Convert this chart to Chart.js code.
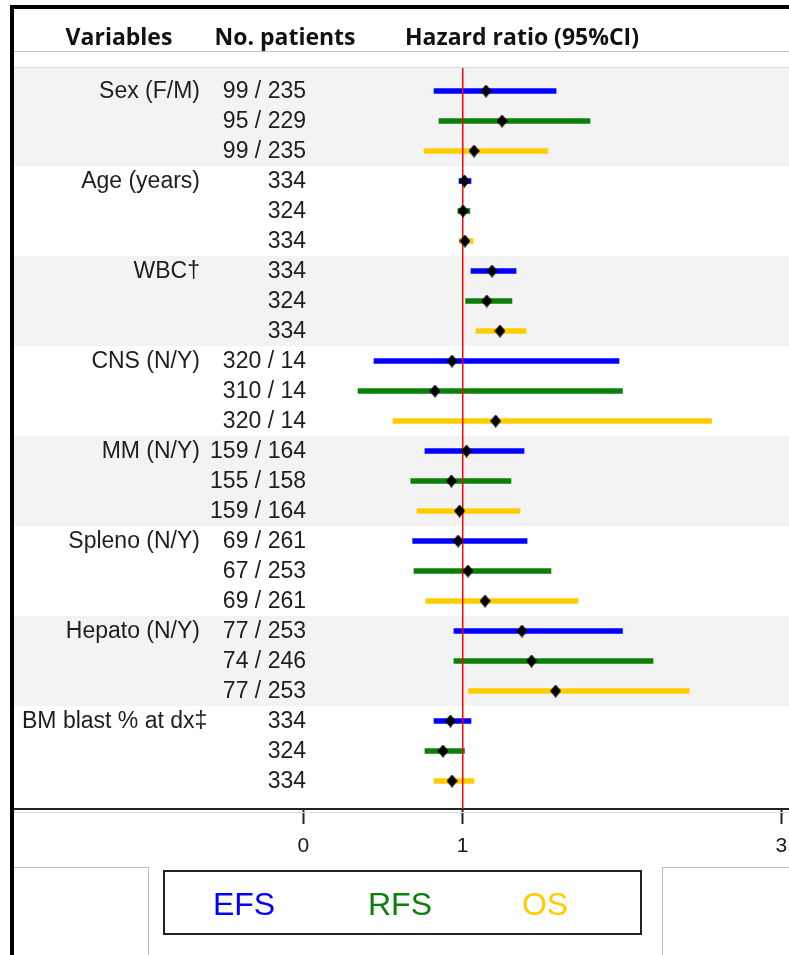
<!DOCTYPE html>
<html>
<head>
<meta charset="utf-8">
<script src="https://cdn.jsdelivr.net/npm/chart.js@4.4.0/dist/chart.umd.min.js"></script>
<style>
html,body{margin:0;padding:0;background:#fff;}
#wrap{position:relative;width:789px;height:955px;overflow:hidden;background:#fff;}
#c{position:absolute;left:0;top:0;}
.bt{position:absolute;left:10px;top:5px;width:800px;height:4px;background:#000;}
.bl{position:absolute;left:10px;top:5px;width:4px;height:960px;background:#000;}
.gl{position:absolute;left:14px;top:867px;width:134px;height:100px;border-top:1px solid #bdbdbd;border-right:1px solid #bdbdbd;}
.gr{position:absolute;left:662px;top:867px;width:140px;height:100px;border-top:1px solid #bdbdbd;border-left:1px solid #bdbdbd;}
#legend{position:absolute;left:163px;top:870px;width:479px;height:65px;box-sizing:border-box;border:2px solid #222;}
.lg{position:absolute;top:904px;transform:translate(-50%,-50%);font:32px "Liberation Sans",Arial,sans-serif;white-space:nowrap;line-height:1;}
</style>
</head>
<body>
<div id="wrap">
  <canvas id="c" width="789" height="955"></canvas>
  <div class="bt"></div>
  <div class="bl"></div>
  <div class="gl"></div>
  <div class="gr"></div>
  <div id="legend"></div>
  <span class="lg" style="left:244px;color:#0000ff">EFS</span>
  <span class="lg" style="left:400px;color:#0a7f0a">RFS</span>
  <span class="lg" style="left:545px;color:#ffcc00">OS</span>
</div>
<script>
// ---- data ----
const headers = ['Variables', 'No. patients', 'Hazard ratio (95%CI)'];
const variables = ['Sex (F/M)', 'Age (years)', 'WBC\u2020', 'CNS (N/Y)', 'MM (N/Y)', 'Spleno (N/Y)', 'Hepato (N/Y)', 'BM blast % at dx\u2021'];
const seriesNames = ['EFS', 'RFS', 'OS'];

const efsPatients = ['99 / 235', '334', '334', '320 / 14', '159 / 164', '69 / 261', '77 / 253', '334'];
const rfsPatients = ['95 / 229', '324', '324', '310 / 14', '155 / 158', '67 / 253', '74 / 246', '324'];
const osPatients  = ['99 / 235', '334', '334', '320 / 14', '159 / 164', '69 / 261', '77 / 253', '334'];

const efsHR = [1.146, 1.011, 1.184, 0.933, 1.024, 0.971, 1.372, 0.923];
const efsLo = [0.820, 0.977, 1.052, 0.443, 0.763, 0.686, 0.945, 0.820];
const efsHi = [1.586, 1.052, 1.335, 1.981, 1.385, 1.404, 2.003, 1.052];

const rfsHR = [1.247, 1.002, 1.151, 0.826, 0.929, 1.033, 1.432, 0.876];
const rfsLo = [0.851, 0.970, 1.018, 0.343, 0.674, 0.694, 0.945, 0.763];
const rfsHi = [1.799, 1.045, 1.309, 2.003, 1.303, 1.554, 2.195, 1.011];

const osHR = [1.071, 1.014, 1.234, 1.207, 0.980, 1.140, 1.583, 0.933];
const osLo = [0.757, 0.977, 1.083, 0.562, 0.713, 0.768, 1.036, 0.820];
const osHi = [1.535, 1.064, 1.397, 2.562, 1.360, 1.724, 2.421, 1.071];

const tickValues = [0, 1, 3];
const referenceHR = 1;

// ---- layout constants ----
const X_MIN = -1.8167, X_MAX = 3.0483;
const Y_MIN = -23 / 30, Y_MAX = 23 + 28 / 30;
const colors = ['#0000ff', '#0a7f0a', '#ffcc00'];
const BODY_FONT = '23px "Liberation Sans", Arial, sans-serif';
const HEAD_FONT = 'bold 23px "Open Sans", "Noto Sans", sans-serif';

const series = [
  {lo: efsLo, hi: efsHi, hr: efsHR, n: efsPatients},
  {lo: rfsLo, hi: rfsHi, hr: rfsHR, n: rfsPatients},
  {lo: osLo, hi: osHi, hr: osHR, n: osPatients}
];
const rowOf = (g, s) => g * 3 + s;

// diamond marker
const diamond = document.createElement('canvas');
diamond.width = 11; diamond.height = 13;
(function(){
  const d = diamond.getContext('2d');
  d.fillStyle = '#000';
  d.beginPath();
  d.moveTo(5.5, 0); d.lineTo(11, 6.5); d.lineTo(5.5, 13); d.lineTo(0, 6.5); d.closePath();
  d.fill();
})();

const barSets = series.map((s, si) => ({
  type: 'bar',
  label: seriesNames[si],
  data: variables.map((v, g) => ({y: rowOf(g, si), x: [s.lo[g], s.hi[g]]})),
  backgroundColor: colors[si],
  borderWidth: 0,
  barThickness: 5,
  grouped: false,
  indexAxis: 'y',
  order: 2 + si
}));

const points = [];
series.forEach((s, si) => variables.forEach((v, g) => points.push({x: s.hr[g], y: rowOf(g, si)})));

const decor = {
  id: 'decor',
  beforeDatasetsDraw(chart) {
    const {ctx, chartArea: a, scales: {y}} = chart;
    ctx.save();
    // shaded bands
    ctx.fillStyle = '#f3f3f3';
    for (let g = 0; g < variables.length; g += 2) {
      const top = g === 0 ? a.top : y.getPixelForValue(g * 3 - 0.5);
      const bot = y.getPixelForValue(g * 3 + 2.5);
      ctx.fillRect(a.left, top, a.right - a.left, bot - top);
    }
    // header separator lines
    ctx.strokeStyle = '#bfbfbf'; ctx.lineWidth = 1;
    ctx.beginPath(); ctx.moveTo(a.left, 51.5); ctx.lineTo(a.right, 51.5); ctx.stroke();
    ctx.strokeStyle = '#dadada';
    ctx.beginPath(); ctx.moveTo(a.left, a.top - 0.5); ctx.lineTo(a.right, a.top - 0.5); ctx.stroke();
    ctx.beginPath(); ctx.moveTo(a.left, a.bottom + 3.5); ctx.lineTo(a.right, a.bottom + 3.5); ctx.stroke();
    // header text
    ctx.fillStyle = '#111';
    ctx.font = HEAD_FONT;
    ctx.textAlign = 'center';
    ctx.textBaseline = 'alphabetic';
    const hx = [119, 285, 522];
    headers.forEach((h, i) => ctx.fillText(h, hx[i], 45));
    // row labels
    ctx.font = BODY_FONT;
    ctx.fillStyle = '#1e1e1e';
    ctx.textBaseline = 'middle';
    ctx.textAlign = 'right';
    variables.forEach((v, g) => {
      const w = ctx.measureText(v).width;
      const xr = Math.max(200, 22 + w);
      ctx.fillText(v, xr, y.getPixelForValue(rowOf(g, 0)) + 1);
    });
    series.forEach((s, si) => {
      s.n.forEach((t, g) => ctx.fillText(t, 306, y.getPixelForValue(rowOf(g, si)) + 1));
    });
    ctx.restore();
  }
};

new Chart(document.getElementById('c'), {
  type: 'bar',
  data: {
    datasets: [
      {
        type: 'scatter', label: 'HR', data: points,
        pointStyle: diamond, pointRadius: 6, backgroundColor: '#000', borderWidth: 0, order: 0
      },
      {
        type: 'line', label: 'ref',
        data: [{x: referenceHR, y: Y_MIN}, {x: referenceHR, y: Y_MAX}],
        borderColor: '#ff0000', borderWidth: 1, pointRadius: 0, order: 1
      },
      ...barSets
    ]
  },
  options: {
    indexAxis: 'y',
    responsive: false,
    animation: false,
    devicePixelRatio: 1,
    layout: {autoPadding: false, padding: {top: 68, left: 14, right: 0, bottom: 0}},
    plugins: {legend: {display: false}, tooltip: {enabled: false}},
    scales: {
      x: {
        type: 'linear', position: 'bottom', min: X_MIN, max: X_MAX, offset: false,
        afterFit(s) { s.height = 146; s.paddingLeft = 0; s.paddingRight = 0; },
        afterBuildTicks(s) { s.ticks = tickValues.map(v => ({value: v})); },
        grid: {drawOnChartArea: false, drawTicks: true, tickLength: 15, tickWidth: 2, tickColor: '#222', offset: false},
        border: {display: true, color: '#222', width: 2},
        ticks: {
          font: {family: '"Liberation Sans", Arial, sans-serif', size: 21},
          color: '#1a1a1a', padding: 10, maxRotation: 0, autoSkip: false,
          callback: v => String(v)
        }
      },
      y: {type: 'linear', display: false, reverse: true, min: Y_MIN, max: Y_MAX, offset: false, grid: {offset: false}}
    }
  },
  plugins: [decor]
});
</script>
</body>
</html>
